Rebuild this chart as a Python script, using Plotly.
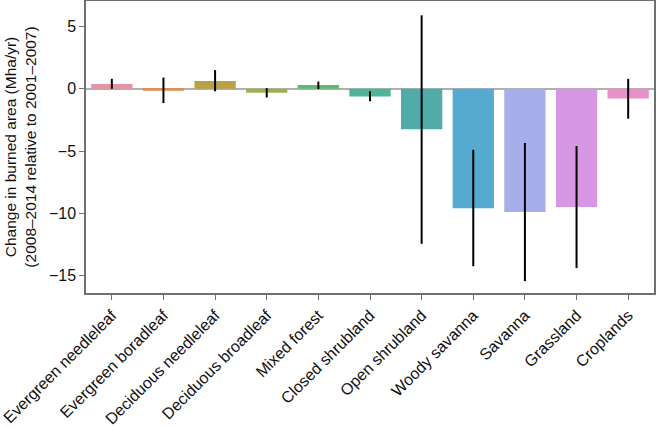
import plotly.graph_objects as go

categories = ["Evergreen needleleaf", "Evergreen boradleaf", "Deciduous needleleaf",
              "Deciduous broadleaf", "Mixed forest", "Closed shrubland", "Open shrubland",
              "Woody savanna", "Savanna", "Grassland", "Croplands"]
values = [0.38, -0.15, 0.62, -0.32, 0.30, -0.62, -3.25, -9.6, -9.9, -9.5, -0.78]
ci_low = [0.0, -1.15, -0.2, -0.7, -0.02, -1.0, -12.45, -14.25, -15.45, -14.4, -2.4]
ci_high = [0.8, 0.9, 1.5, 0.05, 0.58, -0.2, 5.9, -4.9, -4.35, -4.6, 0.8]
colors = ["#e8939f", "#d98f55", "#b8a245", "#a3ac4e", "#60b873", "#4db49a",
          "#51aba7", "#55aad0", "#a8aeea", "#d797e4", "#e891c8"]
y_ticks = [5, 0, -5, -10, -15]
y_tick_text = ["5", "0", "\u22125", "\u221210", "\u221215"]

err_plus = [h - v for h, v in zip(ci_high, values)]
err_minus = [v - l for l, v in zip(ci_low, values)]

fig = go.Figure(go.Bar(
    x=categories, y=values, width=0.8,
    marker=dict(color=colors, line=dict(width=0)),
    error_y=dict(type="data", symmetric=False, array=err_plus, arrayminus=err_minus,
                 color="black", thickness=2, width=0),
))

font = "Liberation Sans, Arial, Helvetica, sans-serif"
fig.update_layout(
    width=656, height=427,
    margin=dict(l=86, r=2, t=1, b=134),
    plot_bgcolor="white", paper_bgcolor="white",
    font=dict(family=font, size=16, color="#111"),
    showlegend=False,
    bargap=0.2,
)
fig.update_xaxes(
    range=[-0.5, 10.5], tickangle=-45, tickfont=dict(size=16), automargin=False,
    showline=True, linecolor="#707070", linewidth=1.5, mirror=True,
    ticks="outside", ticklen=5, tickcolor="#707070", showgrid=False,
)
fig.update_yaxes(
    range=[-16.4, 7.05], tickvals=y_ticks, ticktext=y_tick_text, tickfont=dict(size=16),
    automargin=False,
    showline=True, linecolor="#707070", linewidth=1.5, mirror=True,
    ticks="outside", ticklen=5, tickcolor="#707070", showgrid=False,
    zeroline=True, zerolinecolor="#b0b0b0", zerolinewidth=1.5,
    title=dict(text="Change in burned area (Mha/yr)<br>(2008\u20132014 relative to 2001\u20132007)",
               font=dict(size=15.5), standoff=8),
)

fig.write_html("out.html", config={"displayModeBar": False},
               post_script="document.body.style.margin='0';document.body.style.overflow='hidden';")
